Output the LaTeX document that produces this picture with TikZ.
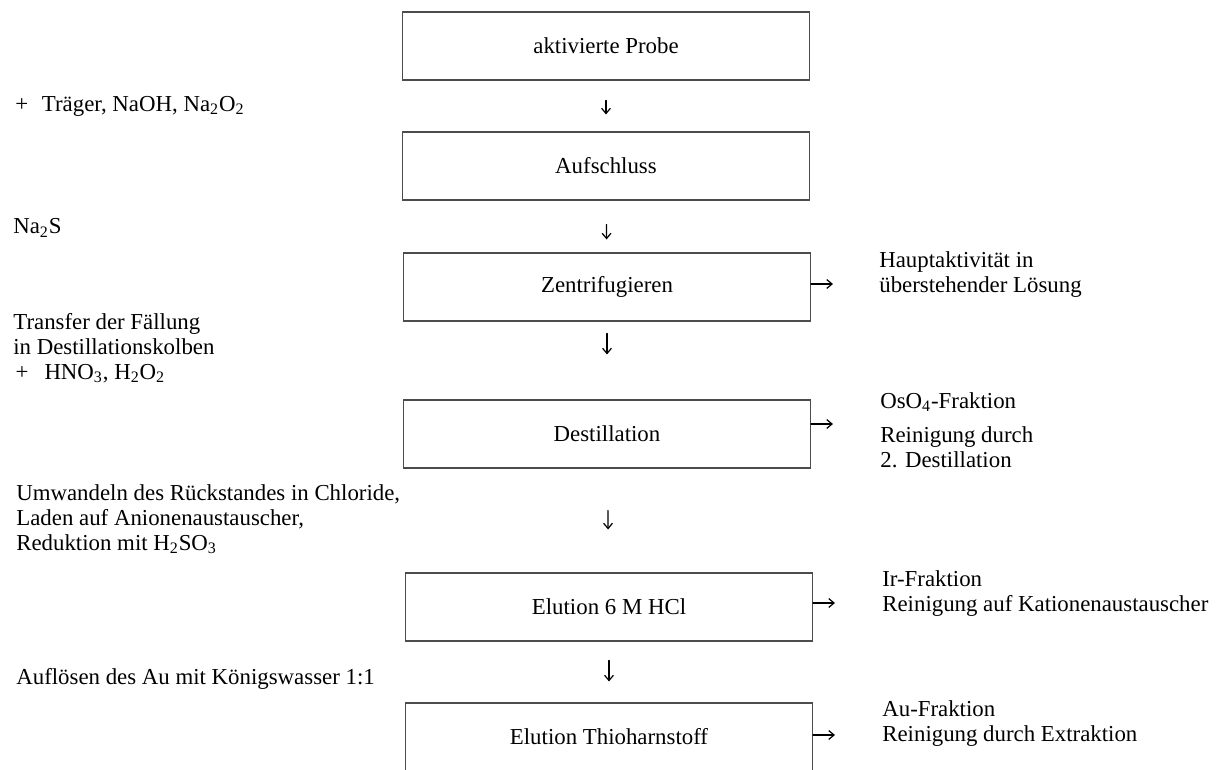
\documentclass[tikz,border=0pt]{standalone}
\usepackage{fontspec}
\setmainfont{Liberation Serif}
\usetikzlibrary{arrows.meta,positioning}

\begin{document}
\begin{tikzpicture}[x=0.02cm, y=-0.02cm, >={Straight Barb[length=3pt,width=5pt]},
	line cap=round, font=\fontsize{13}{14.2}\selectfont,
	stepbox/.style={draw=black!70, line width=0.6pt, minimum width=8.14cm,
		minimum height=1.36cm, inner sep=0pt},
	flow/.style={->, line width=0.7pt},
	note/.style={align=left, anchor=west, inner sep=0pt}]

	% ---- Rahmen ----
	\useasboundingbox (0,0) rectangle (1218,770);

	% ---- Arbeitsschritte ----
	\node[stepbox] (probe)  at (606,46)  {aktivierte Probe};
	\node[stepbox] (aufs)   at (606,166) {Aufschluss};
	\node[stepbox] (zent)   at (607,287) {Zentrifugieren};
	\node[stepbox] (dest)   at (607,434) {Destillation};
	\node[stepbox] (elhcl)  at (609,607) {Elution 6 M HCl};
	\node[stepbox] (elthio) at (609,737) {Elution Thioharnstoff};

	% ---- Pfeile nach unten ----
	\foreach \a/\b/\s/\e in {probe/aufs/0.40/0.34, aufs/zent/0.48/0.26,
			zent/dest/0.24/0.90, dest/elhcl/0.84/0.86, elhcl/elthio/0.38/0.42}
		\draw[flow, shorten <=\s cm, shorten >=\e cm] (\a) -- (\b);

	% ---- Zusaetze (links) ----
	\node[note] (zuaufs) at (15,106) {+\hspace{0.6em}Träger, NaOH, Na\textsubscript{2}O\textsubscript{2}};
	\node[note] (zuzent) at (13,228) {Na\textsubscript{2}S};
	\node[note] (zudest) at (13,348) {Transfer der Fällung\\ in Destillationskolben\\
		\hspace{0.1em}+\hspace{0.7em}HNO\textsubscript{3}, H\textsubscript{2}O\textsubscript{2}};
	\node[note] (zuelu)  at (16,519) {Umwandeln des Rückstandes in Chloride,\\
		Laden auf Anionenaustauscher,\\ Reduktion mit H\textsubscript{2}SO\textsubscript{3}};
	\node[note] (zuthio) at (16,679) {Auflösen des Au mit Königswasser 1:1};

	% ---- Fraktionen (rechts) ----
	\node[note] (haupt)  at (879,275) {Hauptaktivität in\\ überstehender Lösung};
	\node[note] (osfr)   at (880,402) {OsO\textsubscript{4}-Fraktion};
	\node[note] (osrein) at (880,447) {Reinigung durch\\ 2. Destillation};
	\node[note] (irfr)   at (882,594) {Ir-Fraktion\\ Reinigung auf Kationenaustauscher};
	\node[note] (aufr)   at (882,724) {Au-Fraktion\\ Reinigung durch Extraktion};

	% ---- Pfeile nach rechts ----
	\foreach \b/\dy in {zent/0.06, dest/0.2, elhcl/0.08, elthio/0.04}
		\draw[flow] ([yshift=\dy cm]\b.east) -- ++(22,0);

\end{tikzpicture}
\end{document}
